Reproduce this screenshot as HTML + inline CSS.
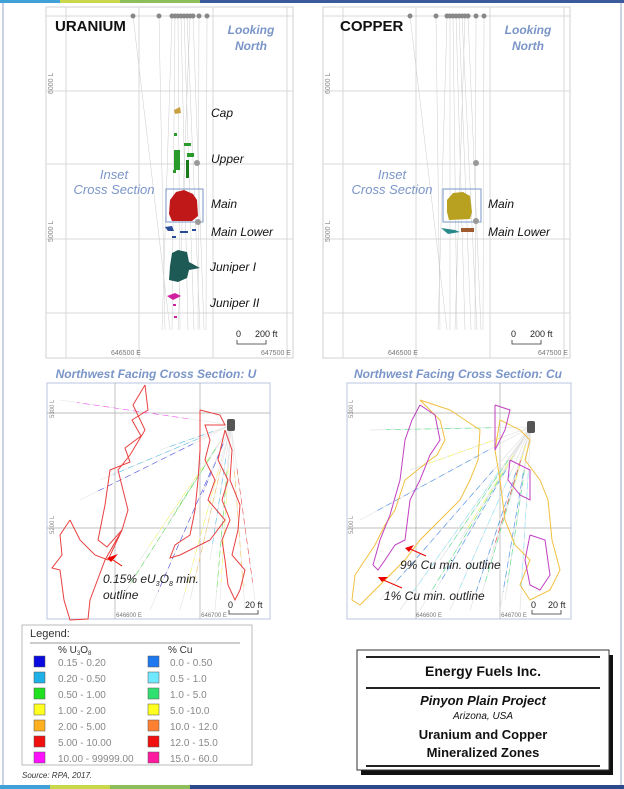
<!DOCTYPE html>
<html><head><meta charset="utf-8">
<style>
html,body{margin:0;padding:0;background:#fff;}
body{width:624px;height:789px;overflow:hidden;position:relative;font-family:"Liberation Sans",sans-serif;}
svg{position:absolute;left:0;top:0;}
.it{font-family:"Liberation Sans",sans-serif;font-style:italic;}
</style></head>
<body>
<svg id="fig" width="624" height="789" viewBox="0 0 624 789">
  <g>
    <rect x="0" y="0" width="60" height="3" fill="#3fa1d8"/>
    <rect x="60" y="0" width="60" height="3" fill="#c8d84a"/>
    <rect x="120" y="0" width="80" height="3" fill="#8cbf5a"/>
    <rect x="200" y="0" width="424" height="3" fill="#3a5a9c"/>
  </g>
  <g>
    <rect x="0" y="785" width="50" height="4" fill="#3fa1d8"/>
    <rect x="50" y="785" width="60" height="4" fill="#c8d84a"/>
    <rect x="110" y="785" width="80" height="4" fill="#8cbf5a"/>
    <rect x="190" y="785" width="434" height="4" fill="#2a4a8c"/>
  </g>
  <line x1="3" y1="3" x2="3" y2="785" stroke="#b8c4dc" stroke-width="1.5"/>
  <line x1="621" y1="3" x2="621" y2="785" stroke="#b8c4dc" stroke-width="1.5"/>

  <g>
    <rect x="46" y="7" width="247" height="351" fill="#fff" stroke="#d0d0d0"/>
    <g stroke="#d8d8d8" stroke-width="1">
      <line x1="46" y1="16" x2="293" y2="16"/><line x1="46" y1="91" x2="293" y2="91"/>
      <line x1="46" y1="164" x2="293" y2="164"/><line x1="46" y1="239" x2="293" y2="239"/>
      <line x1="46" y1="313" x2="293" y2="313"/>
      <line x1="66" y1="7" x2="66" y2="358"/><line x1="139" y1="7" x2="139" y2="358"/>
      <line x1="213" y1="7" x2="213" y2="358"/><line x1="287" y1="7" x2="287" y2="358"/>
    </g>
    <g id="u-holes" stroke="#cccccc" stroke-width="0.5" fill="none"></g>
    <g id="u-collars" fill="#888"></g>
    <text x="55" y="31" font-size="15" font-weight="bold" fill="#111">URANIUM</text>
    <text x="251" y="34" class="it" font-size="12" font-weight="bold" fill="#7a95c8" text-anchor="middle">Looking</text>
    <text x="251" y="50" class="it" font-size="12" font-weight="bold" fill="#7a95c8" text-anchor="middle">North</text>
    <text x="114" y="179" class="it" font-size="13" fill="#7a95c8" text-anchor="middle">Inset</text>
    <text x="114" y="194" class="it" font-size="13" fill="#7a95c8" text-anchor="middle">Cross Section</text>
    <text transform="translate(53,94) rotate(-90)" font-size="7" fill="#888">6000 L</text>
    <text transform="translate(53,242) rotate(-90)" font-size="7" fill="#888">5000 L</text>
    <text x="126" y="355" font-size="7" fill="#777" text-anchor="middle">646500 E</text>
    <text x="276" y="355" font-size="7" fill="#777" text-anchor="middle">647500 E</text>
    <g>
      <text x="236" y="337" font-size="9" fill="#222">0</text>
      <text x="255" y="337" font-size="9" fill="#222">200 ft</text>
      <path d="M237 340 V344 H266 V340" stroke="#333" fill="none" stroke-width="0.8"/>
    </g>
    <path d="M174 110 L180 107 L181 113 L175 114 Z" fill="#c8a040"/>
    <g fill="#2a9a2a">
      <rect x="174" y="133" width="3" height="3"/><rect x="184" y="143" width="7" height="3"/>
      <rect x="174" y="150" width="6" height="20"/><rect x="187" y="153" width="7" height="4"/>
      <rect x="186" y="160" width="3" height="18" fill="#1a7a1a"/><rect x="173" y="170" width="3" height="3"/>
    </g>
    <path d="M170 200 L176 192 L184 190 L193 194 L197 200 L198 216 L192 221 L172 221 L169 214 Z" fill="#c01818"/>
    <rect x="166" y="189" width="37" height="33" fill="none" stroke="#7a95c8" stroke-width="1"/>
    <circle cx="198" cy="222" r="3" fill="#999"/><circle cx="197" cy="163" r="3" fill="#999"/>
    <g fill="#2a4a9a">
      <path d="M165 227 L172 226 L174 231 L168 231 Z"/><rect x="180" y="231" width="8" height="2"/>
      <rect x="192" y="229" width="4" height="2"/><rect x="172" y="236" width="4" height="2"/>
    </g>
    <path d="M172 253 L178 250 L187 252 L189 262 L200 268 L189 270 L187 278 L178 282 L169 280 L170 266 Z" fill="#1e5a55"/>
    <g fill="#d020a0">
      <path d="M167 296 L175 293 L181 296 L173 300 Z"/><rect x="173" y="304" width="3" height="2"/><rect x="174" y="316" width="3" height="2"/>
    </g>
    <g class="it" font-size="12" fill="#111">
      <text x="211" y="117">Cap</text><text x="211" y="163">Upper</text><text x="211" y="208">Main</text>
      <text x="211" y="236">Main Lower</text><text x="210" y="271">Juniper I</text><text x="210" y="307">Juniper II</text>
    </g>
  </g>

  <g>
    <rect x="323" y="7" width="247" height="351" fill="#fff" stroke="#d0d0d0"/>
    <g stroke="#d8d8d8" stroke-width="1">
      <line x1="323" y1="16" x2="570" y2="16"/><line x1="323" y1="91" x2="570" y2="91"/>
      <line x1="323" y1="164" x2="570" y2="164"/><line x1="323" y1="239" x2="570" y2="239"/>
      <line x1="323" y1="313" x2="570" y2="313"/>
      <line x1="343" y1="7" x2="343" y2="358"/><line x1="416" y1="7" x2="416" y2="358"/>
      <line x1="490" y1="7" x2="490" y2="358"/><line x1="564" y1="7" x2="564" y2="358"/>
    </g>
    <g id="c-holes" stroke="#cccccc" stroke-width="0.5" fill="none"></g>
    <g id="c-collars" fill="#888"></g>
    <text x="340" y="31" font-size="15" font-weight="bold" fill="#111">COPPER</text>
    <text x="528" y="34" class="it" font-size="12" font-weight="bold" fill="#7a95c8" text-anchor="middle">Looking</text>
    <text x="528" y="50" class="it" font-size="12" font-weight="bold" fill="#7a95c8" text-anchor="middle">North</text>
    <text x="392" y="179" class="it" font-size="13" fill="#7a95c8" text-anchor="middle">Inset</text>
    <text x="392" y="194" class="it" font-size="13" fill="#7a95c8" text-anchor="middle">Cross Section</text>
    <text transform="translate(330,94) rotate(-90)" font-size="7" fill="#888">6000 L</text>
    <text transform="translate(330,242) rotate(-90)" font-size="7" fill="#888">5000 L</text>
    <text x="403" y="355" font-size="7" fill="#777" text-anchor="middle">646500 E</text>
    <text x="553" y="355" font-size="7" fill="#777" text-anchor="middle">647500 E</text>
    <g>
      <text x="511" y="337" font-size="9" fill="#222">0</text>
      <text x="530" y="337" font-size="9" fill="#222">200 ft</text>
      <path d="M512 340 V344 H541 V340" stroke="#333" fill="none" stroke-width="0.8"/>
    </g>
    <path d="M447 200 L453 193 L463 192 L470 196 L472 212 L470 219 L449 220 L447 212 Z" fill="#b8a020"/>
    <rect x="443" y="189" width="38" height="33" fill="none" stroke="#7a95c8" stroke-width="1"/>
    <circle cx="476" cy="163" r="3" fill="#999"/><circle cx="476" cy="221" r="3" fill="#999"/>
    <path d="M441 228 L455 230 L460 232 L448 234 Z" fill="#2a8a8a"/>
    <rect x="461" y="228" width="13" height="4" fill="#a05a30"/>
    <g class="it" font-size="12" fill="#111"><text x="488" y="208">Main</text><text x="488" y="236">Main Lower</text></g>
  </g>

  <text x="156" y="378" class="it" font-size="12" font-weight="bold" fill="#7a95c8" text-anchor="middle">Northwest Facing Cross Section: U</text>
  <g>
    <rect x="47" y="383" width="223" height="236" fill="#fff" stroke="#b8c4e0"/>
    <g stroke="#aaa" stroke-width="0.7"><line x1="47" y1="413" x2="270" y2="413"/><line x1="47" y1="528" x2="270" y2="528"/>
      <line x1="115" y1="383" x2="115" y2="619"/><line x1="200" y1="383" x2="200" y2="619"/></g>
    <g id="u-rays" stroke-width="0.6"></g>
    <polyline fill="none" stroke="#e84040" stroke-width="1" points="145,385 148,410 132,420 141,436 125,448 130,462 110,470 105,505 98,540 107,547 122,530 128,510 118,470 130,455 145,430 133,405 145,385"/>
    <polyline fill="none" stroke="#e84040" stroke-width="1" points="70,520 80,540 95,555 108,560 122,530 105,560 90,600 88,619 70,620 64,600 60,570 52,568 62,555 60,535 70,520"/>
    <polyline fill="none" stroke="#e84040" stroke-width="1" points="200,410 220,415 225,425 205,425 210,440 205,460 215,480 208,500 225,520 210,540 180,555 170,558 175,545 190,535 195,510 198,480 200,450 200,430 200,410"/>
    <polyline fill="none" stroke="#e84040" stroke-width="1" points="225,430 232,450 230,480 240,505 238,530 232,555 245,570 240,590 235,600 228,585 225,560 222,540 230,520 222,500 228,480 218,460 225,430"/>
    <rect x="227" y="419" width="8" height="12" fill="#555" rx="2"/>
    <path d="M118 554 L107 558 L111 562 Z" fill="#e00"/>
    <line x1="110" y1="558" x2="122" y2="566" stroke="#e00" stroke-width="1"/>
    <text x="103" y="583" class="it" font-size="12" fill="#222">0.15% eU<tspan font-size="7" dy="3">3</tspan><tspan dy="-3">O</tspan><tspan font-size="7" dy="3">8</tspan><tspan dy="-3"> min.</tspan></text>
    <text x="103" y="599" class="it" font-size="12" fill="#222">outline</text>
    <text transform="translate(54,418) rotate(-90)" font-size="6" fill="#888">5300 L</text>
    <text transform="translate(54,534) rotate(-90)" font-size="6" fill="#888">5200 L</text>
    <text x="129" y="617" font-size="6" fill="#777" text-anchor="middle">646600 E</text>
    <text x="214" y="617" font-size="6" fill="#777" text-anchor="middle">646700 E</text>
    <text x="228" y="608" font-size="9" fill="#222">0</text><text x="245" y="608" font-size="9" fill="#222">20 ft</text>
    <path d="M229 610 V614 H258 V610" stroke="#333" fill="none" stroke-width="0.8"/>
  </g>

  <text x="458" y="378" class="it" font-size="12" font-weight="bold" fill="#7a95c8" text-anchor="middle">Northwest Facing Cross Section: Cu</text>
  <g>
    <rect x="347" y="383" width="224" height="236" fill="#fff" stroke="#b8c4e0"/>
    <g stroke="#aaa" stroke-width="0.7"><line x1="347" y1="413" x2="571" y2="413"/><line x1="347" y1="528" x2="571" y2="528"/>
      <line x1="416" y1="383" x2="416" y2="619"/><line x1="500" y1="383" x2="500" y2="619"/></g>
    <g id="c-rays" stroke-width="0.7"></g>
    <polyline fill="none" stroke="#f0c040" stroke-width="1" points="420,400 440,420 445,440 437,455 430,460 405,480 395,510 385,525 375,545 365,560 355,575 352,600 360,605 375,590 390,575 405,560 420,540 440,520 460,500 470,480 478,460 480,430 465,420 450,410 420,400"/>
    <polyline fill="none" stroke="#f0c040" stroke-width="1" points="500,420 520,430 530,440 525,460 540,480 548,500 552,540 560,570 550,590 530,600 520,585 530,560 515,545 505,520 500,480 495,450 500,420"/>
    <polyline fill="none" stroke="#c040c0" stroke-width="1" points="420,405 435,415 440,440 430,455 420,480 410,500 405,540 395,545 385,560 378,570 373,565 380,540 390,515 400,480 405,440 412,420 420,405"/>
    <polyline fill="none" stroke="#c040c0" stroke-width="1" points="495,405 510,410 505,430 500,440 495,450 495,430 495,405"/>
    <polyline fill="none" stroke="#c040c0" stroke-width="1" points="510,460 530,470 530,500 520,495 508,480 510,460"/>
    <polyline fill="none" stroke="#c040c0" stroke-width="1" points="530,535 545,540 550,575 540,590 530,585 525,560 530,535"/>
    <rect x="527" y="421" width="8" height="12" fill="#555" rx="2"/>
    <path d="M414 545 L405 548 L409 552 Z" fill="#e00"/><line x1="408" y1="548" x2="426" y2="556" stroke="#e00" stroke-width="1"/>
    <path d="M388 577 L378 577 L382 582 Z" fill="#e00"/><line x1="381" y1="579" x2="402" y2="588" stroke="#e00" stroke-width="1"/>
    <text x="400" y="569" class="it" font-size="12" fill="#222">9% Cu min. outline</text>
    <text x="384" y="600" class="it" font-size="12" fill="#222">1% Cu min. outline</text>
    <text transform="translate(353,418) rotate(-90)" font-size="6" fill="#888">5300 L</text>
    <text transform="translate(353,534) rotate(-90)" font-size="6" fill="#888">5200 L</text>
    <text x="429" y="617" font-size="6" fill="#777" text-anchor="middle">646600 E</text>
    <text x="514" y="617" font-size="6" fill="#777" text-anchor="middle">646700 E</text>
    <text x="531" y="608" font-size="9" fill="#222">0</text><text x="548" y="608" font-size="9" fill="#222">20 ft</text>
    <path d="M532 610 V614 H561 V610" stroke="#333" fill="none" stroke-width="0.8"/>
  </g>

  <g>
    <rect x="22" y="625" width="230" height="140" fill="#fff" stroke="#bbb"/>
    <text x="30" y="637" font-size="11" fill="#333">Legend:</text>
    <line x1="30" y1="643" x2="240" y2="643" stroke="#999" stroke-width="1"/>
    <text x="58" y="653" font-size="10" fill="#333">% U<tspan font-size="6" dy="2">3</tspan><tspan dy="-2">O</tspan><tspan font-size="6" dy="2">8</tspan></text>
    <text x="168" y="653" font-size="10" fill="#333">% Cu</text>
    <g id="legend-rows"></g>
  </g>
  <text x="22" y="778" class="it" font-size="8" fill="#333">Source:  RPA, 2017.</text>

  <g>
    <rect x="361" y="655" width="252" height="120" fill="#111"/>
    <rect x="357" y="650" width="252" height="120" fill="#fff" stroke="#333"/>
    <line x1="366" y1="657" x2="600" y2="657" stroke="#222" stroke-width="2"/>
    <text x="483" y="676" font-size="14" font-weight="bold" fill="#111" text-anchor="middle">Energy Fuels Inc.</text>
    <line x1="366" y1="688" x2="600" y2="688" stroke="#222" stroke-width="2"/>
    <text x="483" y="705" font-size="13" font-weight="bold" font-style="italic" fill="#111" text-anchor="middle">Pinyon Plain Project</text>
    <text x="483" y="719" font-size="10" font-style="italic" fill="#111" text-anchor="middle">Arizona, USA</text>
    <text x="483" y="739" font-size="13" font-weight="bold" fill="#111" text-anchor="middle">Uranium and Copper</text>
    <text x="483" y="757" font-size="13" font-weight="bold" fill="#111" text-anchor="middle">Mineralized Zones</text>
    <line x1="366" y1="766" x2="600" y2="766" stroke="#222" stroke-width="2"/>
  </g>
</svg>
<script>
const uLabels = ["0.15 - 0.20","0.20 - 0.50","0.50 - 1.00","1.00 - 2.00","2.00 - 5.00","5.00 - 10.00","10.00 - 99999.00"];
const uColors = ["#0a0ae0","#20b0e8","#20e020","#ffff20","#ffb020","#f01010","#ff10ff"];
const cuLabels = ["0.0 - 0.50","0.5 - 1.0","1.0 - 5.0","5.0 -10.0","10.0 - 12.0","12.0 - 15.0","15.0 - 60.0"];
const cuColors = ["#1e78f0","#70e8ff","#30e070","#ffff20","#ff8030","#f01010","#ff1aa0"];
const uCollars = [133,159,172,175,178,181,184,187,190,193,199,207];
const uToes = [170,165,162,172,180,188,194,200,178,204,198,206];
const cCollars = [410,436,447,450,453,456,459,462,465,468,476,484];
const cToes = [447,440,438,450,457,465,471,477,455,481,475,483];
const uRayX = [60,80,100,120,140,150,160,170,180,190,200,210,215,220,245,255];
const uRayY = [400,500,480,600,560,610,450,520,610,600,500,560,610,600,610,600];
const uRayC = [6,0,1,2,3,0,1,2,3,4,0,1,2,3,4,5];
const cRayX = [360,370,380,400,410,420,430,440,450,460,470,480,490,500,505,510,520];
const cRayY = [520,430,600,610,470,610,600,560,610,540,610,600,560,610,600,500,610];
const cRayC = [0,2,0,1,3,2,0,2,1,3,0,2,5,0,2,3,1];
const NS = "http://www.w3.org/2000/svg";
function mk(t, a){const e=document.createElementNS(NS,t);for(const k in a)e.setAttribute(k,a[k]);return e;}
const rows = document.getElementById('legend-rows');
const rowY = (i)=>662 + i*16;
for(let i=0;i<uLabels.length;i++){
  const s1 = mk('rect',{x:34,y:rowY(i)-6,width:11,height:11,fill:uColors[i],stroke:"#555","stroke-width":0.5});
  
  
  rows.appendChild(s1);
  const t1 = mk('text',{x:58,y:rowY(i)+4,"font-size":10,fill:"#888"}); t1.textContent=uLabels[i];
  
  
  rows.appendChild(t1);
  const s2 = mk('rect',{x:148,y:rowY(i)-6,width:11,height:11,fill:cuColors[i],stroke:"#555","stroke-width":0.5});
  
  
  rows.appendChild(s2);
  const t2 = mk('text',{x:170,y:rowY(i)+4,"font-size":10,fill:"#888"}); t2.textContent=cuLabels[i];
  
  
  rows.appendChild(t2);
}
function holes(gid, cid, collars, toes){
  const g=document.getElementById(gid), c=document.getElementById(cid);
  for(let i=0;i<collars.length;i++){
    const l=mk('line',{x1:collars[i],y1:16,x2:toes[i],y2:330});
    
    
    g.appendChild(l);
    const d=mk('circle',{cx:collars[i],cy:16,r:2.5});
    
    
    c.appendChild(d);
  }
}
holes('u-holes','u-collars',uCollars,uToes);
holes('c-holes','c-collars',cCollars,cToes);
function rays(gid, ox, oy, xs, ys, cs, cols){
  const g=document.getElementById(gid);
  for(let i=0;i<xs.length;i++){
    const gl=mk('line',{x1:ox,y1:oy,x2:xs[i],y2:ys[i],stroke:"#e2e2e2"});
    g.appendChild(gl);
    const mx=ox+(xs[i]-ox)*0.25, my=oy+(ys[i]-oy)*0.25;
    const l=mk('line',{x1:mx,y1:my,x2:ox+(xs[i]-ox)*0.9,y2:oy+(ys[i]-oy)*0.9,stroke:cols[cs[i]],"stroke-dasharray":"6 4",opacity:0.7});
    
    
    g.appendChild(l);
  }
}
rays('u-rays',231,425,uRayX,uRayY,uRayC,uColors);
rays('c-rays',531,427,cRayX,cRayY,cRayC,cuColors);
</script>
</body></html>
